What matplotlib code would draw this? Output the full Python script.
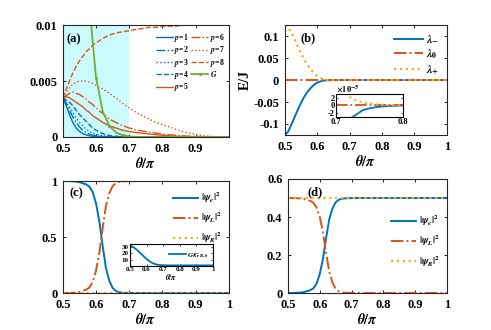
import matplotlib
matplotlib.use("Agg")
import matplotlib.pyplot as plt
import numpy as np

plt.rcParams['font.family'] = ['Liberation Serif', 'DejaVu Serif']
plt.rcParams['mathtext.fontset'] = 'stix'
plt.rcParams['font.weight'] = 'bold'
plt.rcParams['axes.linewidth'] = 0.8

BLUE = '#0072BD'
ORANGE = '#D95319'
YELLOW = '#EDB120'
GREEN = '#77AC30'

# ---------------- panel (a) data ----------------
xa = [0.50, 0.51, 0.52, 0.53, 0.54, 0.55, 0.56, 0.57, 0.58, 0.59, 0.60, 0.62, 0.64, 0.66,
      0.68, 0.70, 0.72, 0.74, 0.76, 0.78, 0.80, 0.82, 0.84, 0.86, 0.88, 0.90, 0.92, 0.94,
      0.96, 0.98, 1.00]
p1 = [.0035, .0028, .0020, .0013, .0008, .0005, .0003, .00018, .0001, .00006, .00003, .00001,
      0, 0, 0, 0, 0, 0, 0, 0, 0, 0, 0, 0, 0, 0, 0, 0, 0, 0, 0]
p2 = [.0035, .0030, .0024, .0018, .0013, .0009, .0006, .0004, .00025, .00016, .0001, .00004,
      .00001, 0, 0, 0, 0, 0, 0, 0, 0, 0, 0, 0, 0, 0, 0, 0, 0, 0, 0]
p3 = [.0035, .0031, .0027, .0022, .0017, .0013, .0010, .0007, .0005, .00035, .00024, .0001,
      .00004, .00001, 0, 0, 0, 0, 0, 0, 0, 0, 0, 0, 0, 0, 0, 0, 0, 0, 0]
p4 = [.0035, .0033, .0031, .0028, .0024, .0020, .0017, .0014, .0011, .0008, .0006, .0003,
      .00013, .00006, .00003, .00001, 0, 0, 0, 0, 0, 0, 0, 0, 0, 0, 0, 0, 0, 0, 0]
p5 = [.0035, .0036, .0035, .0033, .0031, .0029, .0027, .0024, .0022, .0019, .0017, .0013,
      .0010, .0008, .0006, .00048, .0004, .00033, .00026, .0002, .00015, .0001, .00007,
      .00005, .00003, .00002, .00001, 0, 0, 0, 0]
p6 = [.0035, .0037, .0039, .0040, .0039, .0038, .0036, .0034, .0031, .0029, .0026, .0021,
      .0016, .0013, .0010, .0008, .00065, .00053, .00043, .00034, .00027, .0002, .00015,
      .0001, .00007, .00005, .00003, .00002, .00001, 0, 0]
p7 = [.0035, .0040, .0044, .0047, .0049, .0050, .0050, .0050, .0049, .0048, .0046, .0043,
      .0039, .0035, .0030, .0026, .0022, .0019, .0016, .0013, .0011, .0009, .0007, .0005,
      .00035, .00022, .00013, .00007, .00003, .00001, 0]
p8 = [.0035, .0043, .0050, .0057, .0063, .0068, .0072, .0076, .0079, .0082, .0084, .0088,
      .0091, .0093, .0094, .0095, .0096, .0097, .0098, .0098, .0099, .0099, .0099, .0100,
      .0100, .0100, .0100, .0100, .0100, .0100, .0100]
G = [0.2, 0.12, 0.075, 0.05, 0.037, 0.028, 0.021, 0.016, 0.0118, 0.0085, 0.0053, 0.0023,
     0.0010, 0.0004, 0.00015, 0.00005, 0.00002, 0, 0, 0, 0, 0, 0, 0, 0, 0, 0, 0, 0, 0, 0]

# ---------------- panel (b) data ----------------
xb = [0.50, 0.51, 0.52, 0.53, 0.54, 0.55, 0.56, 0.57, 0.58, 0.59, 0.60, 0.61, 0.62, 0.63,
      0.64, 0.65, 0.66, 0.68, 0.70, 0.75, 0.80, 0.85, 0.90, 0.95, 1.00]
lam_plus = [0.125, 0.120, 0.108, 0.093, 0.077, 0.061, 0.047, 0.035, 0.024, 0.016, 0.009,
            0.005, 0.002, 0.0008, 0.0003, 0.00015, 0.0001, 0.00006, 0.00004, 0.00001,
            0, 0, 0, 0, 0]
lam_minus = [-0.125, -0.118, -0.102, -0.085, -0.068, -0.052, -0.038, -0.027, -0.018, -0.011,
             -0.006, -0.003, -0.0013, -0.0005, -0.0002, -0.0001, -0.00006, -0.00005,
             -0.00003, -0.00001, 0, 0, 0, 0, 0]
lam_zero = [0] * 25
# inset (b), units of 1e-5
xb_in = [0.70, 0.71, 0.72, 0.73, 0.74, 0.75, 0.76, 0.77, 0.78, 0.79, 0.80]
lp_in = [5.0, 3.8, 2.4, 1.4, 0.9, 0.55, 0.32, 0.18, 0.10, 0.05, 0.02]
lm_in = [-6.5, -5.0, -3.8, -2.6, -1.3, -0.8, -0.45, -0.25, -0.12, -0.06, -0.03]
l0_in = [0] * 11

# ---------------- panel (c) / (d) data ----------------
xc = [0.50, 0.52, 0.54, 0.55, 0.56, 0.57, 0.58, 0.59, 0.60, 0.61, 0.62, 0.63, 0.64, 0.65,
      0.66, 0.67, 0.68, 0.70, 0.75, 0.80, 0.85, 0.90, 0.95, 1.00]
psi_e_c = [1, 0.999, 0.995, 0.99, 0.98, 0.97, 0.95, 0.90, 0.80, 0.64, 0.42, 0.22, 0.11, 0.045,
           0.018, 0.007, 0.003, 0.0005, 0, 0, 0, 0, 0, 0]
psi_L_c = [0, 0.001, 0.005, 0.01, 0.02, 0.03, 0.05, 0.10, 0.20, 0.36, 0.58, 0.78, 0.89, 0.955,
           0.982, 0.993, 0.997, 0.9995, 1, 1, 1, 1, 1, 1]
psi_R_c = [0] * 24
psi_e_d = [0, 0.0005, 0.0025, 0.005, 0.01, 0.015, 0.025, 0.05, 0.10, 0.18, 0.29, 0.39, 0.445,
           0.4775, 0.491, 0.4965, 0.4985, 0.49975, 0.5, 0.5, 0.5, 0.5, 0.5, 0.5]
psi_L_d = [0.5, 0.4995, 0.4975, 0.495, 0.49, 0.485, 0.475, 0.45, 0.40, 0.32, 0.21, 0.11, 0.055,
           0.0225, 0.009, 0.0035, 0.0015, 0.00025, 0, 0, 0, 0, 0, 0]
psi_R_d = [0.5] * 24
# inset (c)
xg = [0.50, 0.52, 0.54, 0.56, 0.58, 0.60, 0.62, 0.64, 0.66, 0.68, 0.70, 0.75, 0.80, 0.85,
      0.90, 0.95, 1.00]
G_ratio = [33, 30, 26, 21, 16, 11, 7, 4, 2.3, 1.5, 1.1, 1.0, 1.0, 1.0, 1.0, 1.0, 1.0]

fig = plt.figure(figsize=(4.91, 3.30), dpi=100)

TICK = 9
LBL = 10


def style(ax):
    ax.tick_params(direction='in', top=True, right=True, labelsize=TICK, length=2.5, width=0.6)
    ax.tick_params(axis='x', pad=4)
    ax.tick_params(axis='y', pad=4)
    for lab in ax.get_xticklabels() + ax.get_yticklabels():
        lab.set_fontweight('bold')
    for s in ax.spines.values():
        s.set_color('#262626')


# ---- (a)
axa = fig.add_axes([0.128, 0.585, 0.338, 0.339])
axa.axvspan(0.5, 0.7, color='#ccfbff', lw=0, zorder=0)
axa.plot(xa, p1, '-', color=BLUE, lw=1.0, label='$p$=1')
axa.plot(xa, p2, '-.', color=BLUE, lw=1.0, label='$p$=2')
axa.plot(xa, p3, ':', color=BLUE, lw=1.0, label='$p$=3')
axa.plot(xa, p4, '--', color=BLUE, lw=1.0, label='$p$=4')
axa.plot(xa, p5, '-', color=ORANGE, lw=1.0, label='$p$=5')
axa.plot(xa, p6, '-.', color=ORANGE, lw=1.0, label='$p$=6')
axa.plot(xa, p7, ':', color=ORANGE, lw=1.0, label='$p$=7')
axa.plot(xa, p8, '--', color=ORANGE, lw=1.0, label='$p$=8')
axa.plot(xa, G, '-', color=GREEN, lw=1.3, marker='.', ms=2.5, markevery=2, label='$G$')
axa.set_xlim(0.5, 1.0)
axa.set_ylim(0, 0.01)
axa.set_xticks([0.5, 0.6, 0.7, 0.8, 0.9])
axa.set_xticklabels(['0.5', '0.6', '0.7', '0.8', '0.9'])
axa.set_yticks([0, 0.005, 0.01])
axa.set_yticklabels(['0', '0.005', '0.01'])
axa.set_xlabel(r'$\theta/\pi$', fontsize=LBL, labelpad=1)
axa.text(0.025, 0.93, '(a)', transform=axa.transAxes, fontsize=9, fontweight='bold', va='top')
leg = axa.legend(ncol=2, loc='upper right', bbox_to_anchor=(1.0, 0.98), frameon=False,
                 fontsize=5.5, handlelength=2.2, handletextpad=0.2, columnspacing=0.3,
                 labelspacing=0.05, borderpad=0.1)
style(axa)

# ---- (b)
axb = fig.add_axes([0.580, 0.591, 0.330, 0.333])
axb.plot(xb, lam_minus, '-', color=BLUE, lw=1.4, label=r'$\lambda_{-}$')
axb.plot(xb, lam_zero, '-.', color=ORANGE, lw=1.4, label=r'$\lambda_{0}$')
axb.plot(xb, lam_plus, ':', color=YELLOW, lw=1.6, label=r'$\lambda_{+}$')
axb.set_xlim(0.5, 1.0)
axb.set_ylim(-0.125, 0.125)
axb.set_xticks([0.5, 0.6, 0.7, 0.8, 0.9, 1.0])
axb.set_xticklabels(['0.5', '0.6', '0.7', '0.8', '0.9', '1'])
axb.set_yticks([-0.1, -0.05, 0, 0.05, 0.1])
axb.set_yticklabels(['-0.1', '-0.05', '0', '0.05', '0.1'])
axb.set_xlabel(r'$\theta/\pi$', fontsize=LBL, labelpad=1)
axb.set_ylabel('E/J', fontsize=LBL, fontweight='bold', labelpad=1)
axb.text(0.1, 0.93, '(b)', transform=axb.transAxes, fontsize=9, fontweight='bold', va='top')
axb.legend(loc='upper right', bbox_to_anchor=(1.0, 0.99), frameon=False, fontsize=8,
           handlelength=2.6, handletextpad=0.3, labelspacing=0.25, borderpad=0.2)
style(axb)

axbi = fig.add_axes([0.684, 0.6455, 0.1365, 0.0697])
axbi.plot(xb_in, lm_in, '-', color=BLUE, lw=1.3)
axbi.plot(xb_in, l0_in, '-.', color=ORANGE, lw=1.3)
axbi.plot(xb_in, lp_in, ':', color=YELLOW, lw=1.5)
axbi.set_xlim(0.7, 0.8)
axbi.set_ylim(-3.2, 3.2)
axbi.set_xticks([0.7, 0.8])
axbi.set_xticklabels(['0.7', '0.8'])
axbi.set_yticks([-2, 0, 2])
axbi.set_yticklabels(['-2', '0', '2'])
axbi.tick_params(direction='in', top=True, right=True, labelsize=6, length=1.5, width=0.5, pad=1)
for lab in axbi.get_xticklabels() + axbi.get_yticklabels():
    lab.set_fontweight('bold')
axbi.text(0.0, 1.02, r'$\times10^{-5}$', transform=axbi.transAxes, fontsize=6, va='bottom')

# ---- (c)
axc = fig.add_axes([0.128, 0.112, 0.338, 0.3395])
axc.plot(xc, psi_e_c, '-', color=BLUE, lw=1.4, label=r'$|\psi_e|^2$')
axc.plot(xc, psi_L_c, '-.', color=ORANGE, lw=1.4, label=r'$|\psi_L|^2$')
axc.plot(xc, psi_R_c, ':', color=YELLOW, lw=1.6, label=r'$|\psi_R|^2$')
axc.set_xlim(0.5, 1.0)
axc.set_ylim(0, 1)
axc.set_xticks([0.5, 0.6, 0.7, 0.8, 0.9, 1.0])
axc.set_xticklabels(['0.5', '0.6', '0.7', '0.8', '0.9', '1'])
axc.set_yticks([0, 0.5, 1])
axc.set_yticklabels(['0', '0.5', '1'])
axc.set_xlabel(r'$\theta/\pi$', fontsize=LBL, labelpad=1)
axc.text(0.04, 0.94, '(c)', transform=axc.transAxes, fontsize=9, fontweight='bold', va='top')
axc.legend(loc='upper right', bbox_to_anchor=(1.0, 0.98), frameon=False, fontsize=7,
           handlelength=2.6, handletextpad=0.3, labelspacing=0.55, borderpad=0.2)
style(axc)

axci = fig.add_axes([0.2648, 0.194, 0.169, 0.0667])
axci.plot(xg, G_ratio, '-', color=BLUE, lw=1.3, label=r'$G/G_{R,b}$')
axci.set_xlim(0.5, 1.0)
axci.set_ylim(0, 35)
axci.set_xticks([0.5, 0.6, 0.7, 0.8, 0.9, 1.0])
axci.set_xticklabels(['0.5', '0.6', '0.7', '0.8', '0.9', '1'])
axci.set_yticks([10, 20, 30])
axci.set_yticklabels(['10', '20', '30'])
axci.tick_params(direction='in', top=True, right=True, labelsize=5, length=1.5, width=0.5, pad=1)
for lab in axci.get_xticklabels() + axci.get_yticklabels():
    lab.set_fontweight('bold')
axci.set_xlabel(r'$\theta/\pi$', fontsize=5.5, labelpad=0)
axci.legend(loc='upper right', bbox_to_anchor=(1.0, 0.85), frameon=False, fontsize=5,
            handlelength=2.5, handletextpad=0.2, borderpad=0.1)

# ---- (d)
axd = fig.add_axes([0.5866, 0.112, 0.3234, 0.3456])
axd.plot(xc, psi_e_d, '-', color=BLUE, lw=1.4, label=r'$|\psi_e|^2$')
axd.plot(xc, psi_L_d, '-.', color=ORANGE, lw=1.4, label=r'$|\psi_L|^2$')
axd.plot(xc, psi_R_d, ':', color=YELLOW, lw=1.6, label=r'$|\psi_R|^2$')
axd.set_xlim(0.5, 1.0)
axd.set_ylim(0, 0.6)
axd.set_xticks([0.5, 0.6, 0.7, 0.8, 0.9, 1.0])
axd.set_xticklabels(['0.5', '0.6', '0.7', '0.8', '0.9', '1'])
axd.set_yticks([0, 0.2, 0.4, 0.6])
axd.set_yticklabels(['0', '0.2', '0.4', '0.6'])
axd.set_xlabel(r'$\theta/\pi$', fontsize=LBL, labelpad=1)
axd.text(0.12, 0.94, '(d)', transform=axd.transAxes, fontsize=9, fontweight='bold', va='top')
axd.legend(loc='upper right', bbox_to_anchor=(1.0, 0.76), frameon=False, fontsize=7,
           handlelength=2.6, handletextpad=0.3, labelspacing=0.55, borderpad=0.2)
style(axd)

fig.savefig('out.png', dpi=100)
